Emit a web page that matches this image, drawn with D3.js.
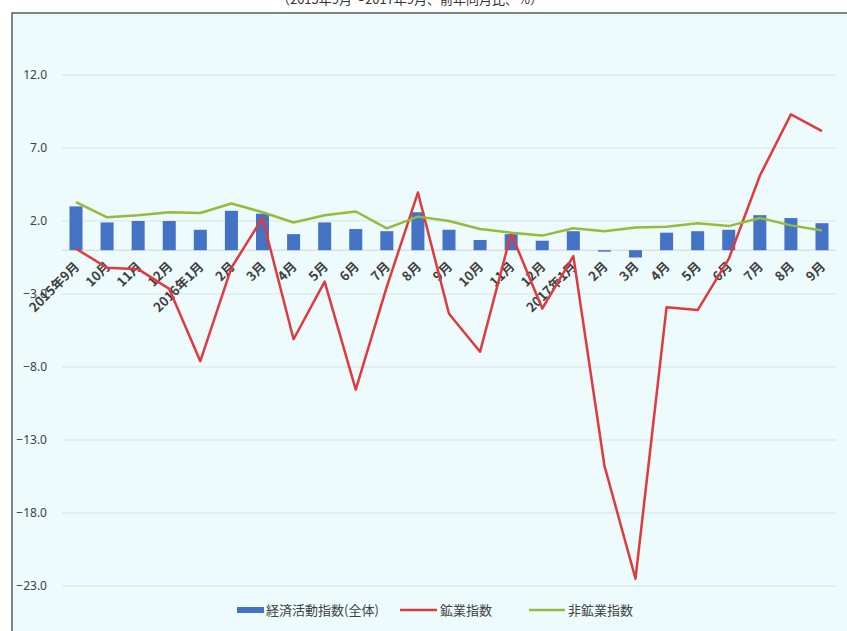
<!DOCTYPE html>
<html>
<head>
<meta charset="utf-8">
<script src="https://cdn.jsdelivr.net/npm/d3@7"></script>
<style>
  body { margin: 0; background: #fff; }
  text { font-family: "Noto Sans CJK JP", "Noto Sans", sans-serif; }
</style>
</head>
<body>
<svg id="chart"></svg>
<script>
// categories (months)
const months = ["2015年9月", "10月", "11月", "12月", "2016年1月", "2月", "3月", "4月", "5月", "6月", "7月", "8月",
  "9月", "10月", "11月", "12月", "2017年1月", "2月", "3月", "4月", "5月", "6月", "7月", "8月", "9月"];

// 経済活動指数(全体)
const totalIndex = [3.0, 1.9, 2.0, 2.0, 1.4, 2.7, 2.5, 1.1, 1.9, 1.45, 1.3, 2.6,
  1.4, 0.7, 1.1, 0.65, 1.3, -0.1, -0.5, 1.2, 1.3, 1.4, 2.4, 2.2, 1.85];

// 鉱業指数
const miningIndex = [0.1, -1.2, -1.3, -2.65, -7.6, -1.2, 2.2, -6.1, -2.15, -9.55, -2.5, 3.95,
  -4.35, -6.95, 1.15, -4.0, -0.4, -14.75, -22.5, -3.9, -4.1, -0.6, 5.1, 9.3, 8.15];

// 非鉱業指数
const nonMiningIndex = [3.3, 2.25, 2.4, 2.6, 2.55, 3.2, 2.6, 1.9, 2.4, 2.65, 1.5, 2.3,
  2.0, 1.45, 1.2, 1.0, 1.5, 1.3, 1.55, 1.6, 1.85, 1.65, 2.2, 1.7, 1.35];

const yTicks = [12, 7, 2, -3, -8, -13, -18, -23];

const seriesNames = ["経済活動指数(全体)", "鉱業指数", "非鉱業指数"];

const blue = "#4472C4", red = "#E03A3E", green = "#94BC3A";

const svgWidth = 847, svgHeight = 631;

const svg = d3.select("#chart")
    .attr("width", svgWidth)
    .attr("height", svgHeight);

// title, mostly cut off at the top like the source
svg.append("text")
    .attr("x", 410)
    .attr("y", 4)
    .attr("text-anchor", "middle")
    .style("font-size", "13px")
    .style("fill", "#333")
    .text("（2015年9月～2017年9月、前年同月比、%）");

// chart frame
svg.append("rect")
    .attr("x", 12)
    .attr("y", 13)
    .attr("width", 900)
    .attr("height", 700)
    .attr("fill", "#EEFBFC")
    .attr("stroke", "#5a5a5a")
    .attr("stroke-width", 1.5);

const xScale = d3.scalePoint()
    .domain(d3.range(months.length))
    .range([76, 822]);

const yScale = d3.scaleLinear()
    .domain([-28, 17])
    .range([659, 2]);

// gridlines
svg.append("g")
    .selectAll("line")
    .data(yTicks)
    .enter()
    .append("line")
    .attr("x1", 62)
    .attr("x2", 836)
    .attr("y1", d => yScale(d))
    .attr("y2", d => yScale(d))
    .attr("stroke", "#DCE3E4")
    .attr("stroke-width", 1);

// y axis labels
const yAxis = d3.axisLeft(yScale)
    .tickValues(yTicks)
    .tickFormat(d3.format(".1f"))
    .tickSize(0)
    .tickPadding(0);

const yAxisG = svg.append("g")
    .attr("transform", "translate(47,0)")
    .call(yAxis);
yAxisG.select(".domain").remove();
yAxisG.selectAll("text")
    .style("font-family", "'Noto Sans', sans-serif")
    .style("font-size", "12px")
    .style("fill", "#404040");

// zero line
svg.append("line")
    .attr("x1", 62)
    .attr("x2", 836)
    .attr("y1", yScale(0))
    .attr("y2", yScale(0))
    .attr("stroke", "#D0D6D8");

// bars
const barWidth = 13;
svg.append("g")
    .selectAll("rect")
    .data(totalIndex)
    .enter()
    .append("rect")
    .attr("x", (d, i) => xScale(i) - barWidth / 2)
    .attr("y", d => yScale(Math.max(0, d)))
    .attr("width", barWidth)
    .attr("height", d => Math.abs(yScale(d) - yScale(0)))
    .attr("fill", blue);

// category labels, rotated
svg.append("g")
    .selectAll("text")
    .data(months)
    .enter()
    .append("text")
    .attr("transform", (d, i) => `translate(${xScale(i) + 1},${yScale(0) + 14}) rotate(-45)`)
    .attr("text-anchor", "end")
    .attr("dy", "0.35em")
    .style("font-size", "13px")
    .style("font-weight", "bold")
    .style("fill", "#404040")
    .text(d => d);

const line = d3.line()
    .x((d, i) => xScale(i))
    .y(d => yScale(d));

svg.append("path")
    .datum(miningIndex)
    .attr("d", line)
    .attr("fill", "none")
    .attr("stroke", red)
    .attr("stroke-width", 2.5)
    .attr("stroke-linejoin", "round");

svg.append("path")
    .datum(nonMiningIndex)
    .attr("d", line)
    .attr("fill", "none")
    .attr("stroke", green)
    .attr("stroke-width", 2.5)
    .attr("stroke-linejoin", "round");

// legend
const legendY = 610;
const legend = svg.append("g");

legend.append("rect")
    .attr("x", 237).attr("y", legendY - 3)
    .attr("width", 27).attr("height", 6)
    .attr("fill", blue);
legend.append("text")
    .attr("x", 266).attr("y", legendY).attr("dy", "0.35em")
    .style("font-size", "13px").style("fill", "#404040")
    .text(seriesNames[0]);

legend.append("line")
    .attr("x1", 400).attr("x2", 437)
    .attr("y1", legendY).attr("y2", legendY)
    .attr("stroke", red).attr("stroke-width", 2.5);
legend.append("text")
    .attr("x", 440).attr("y", legendY).attr("dy", "0.35em")
    .style("font-size", "13px").style("fill", "#404040")
    .text(seriesNames[1]);

legend.append("line")
    .attr("x1", 529).attr("x2", 565)
    .attr("y1", legendY).attr("y2", legendY)
    .attr("stroke", green).attr("stroke-width", 2.5);
legend.append("text")
    .attr("x", 568).attr("y", legendY).attr("dy", "0.35em")
    .style("font-size", "13px").style("fill", "#404040")
    .text(seriesNames[2]);
</script>
</body>
</html>
